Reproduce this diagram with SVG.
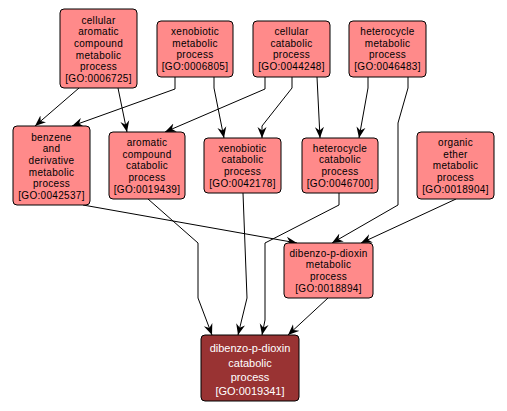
<svg xmlns="http://www.w3.org/2000/svg" width="507" height="411" viewBox="0 0 507 411">
<style>
.n rect{fill:#ff8a8a;stroke:#000;stroke-width:1}
.n text{font-family:"Liberation Sans",Arial,sans-serif;font-size:10px;letter-spacing:0.3px;text-anchor:middle;fill:#000}
.d rect{fill:#993333;stroke:#000;stroke-width:1}
.d text{font-family:"Liberation Sans",Arial,sans-serif;font-size:11px;text-anchor:middle;fill:#fff}
.e path{fill:none;stroke:#000;stroke-width:1;marker-end:url(#a)}
</style>
<defs>
<marker id="a" markerUnits="userSpaceOnUse" markerWidth="12" markerHeight="10" viewBox="0 0 12 10" refX="11" refY="5" orient="auto">
<path d="M0,0.5 L11,5 L0,9.5 L3.5,5 Z" fill="#000"/>
</marker>
</defs>
<rect width="507" height="411" fill="#fff"/>
<g class="e" id="edges">
<path d="M79,88 L35,126"/>
<path d="M118,88 L127,132"/>
<path d="M175,77 L175,89 L72,126"/>
<path d="M265,77 L265,89 L165,132"/>
<path d="M214,77 L214,88 L224,138"/>
<path d="M292,77 L292,88 L262,126 L262,138"/>
<path d="M317,77 L320,138"/>
<path d="M368,77 L368,88 L359,138"/>
<path d="M408,77 L408,88 L398,123 L398,205 L332,243"/>
<path d="M456,199 L361,243"/>
<path d="M83,205 L297,243"/>
<path d="M148,199 L198,243 L198,298 L212,335"/>
<path d="M243,193 L247,298 L238,335"/>
<path d="M339,193 L339,205 L265,243 L265,320 L262,335"/>
<path d="M328,298 L288,335"/>
</g>
<g class="n" id="GO0006725">
<rect x="60" y="9" width="77" height="79" rx="4"/>
<text x="98.5" y="23.5">cellular</text>
<text x="98.5" y="35.2">aromatic</text>
<text x="98.5" y="46.9">compound</text>
<text x="98.5" y="58.6">metabolic</text>
<text x="98.5" y="70.3">process</text>
<text x="98.5" y="82">[GO:0006725]</text>
</g>
<g class="n" id="GO0006805">
<rect x="157" y="21" width="76" height="56" rx="4"/>
<text x="195" y="35">xenobiotic</text>
<text x="195" y="46.7">metabolic</text>
<text x="195" y="58.4">process</text>
<text x="195" y="70.1">[GO:0006805]</text>
</g>
<g class="n" id="GO0044248">
<rect x="253" y="21" width="77" height="56" rx="4"/>
<text x="291.5" y="35">cellular</text>
<text x="291.5" y="46.7">catabolic</text>
<text x="291.5" y="58.4">process</text>
<text x="291.5" y="70.1">[GO:0044248]</text>
</g>
<g class="n" id="GO0046483">
<rect x="349" y="21" width="77" height="56" rx="4"/>
<text x="387.5" y="35">heterocycle</text>
<text x="387.5" y="46.7">metabolic</text>
<text x="387.5" y="58.4">process</text>
<text x="387.5" y="70.1">[GO:0046483]</text>
</g>
<g class="n" id="GO0042537">
<rect x="13" y="126" width="77" height="79" rx="4"/>
<text x="51.5" y="140.5">benzene</text>
<text x="51.5" y="152.2">and</text>
<text x="51.5" y="163.9">derivative</text>
<text x="51.5" y="175.6">metabolic</text>
<text x="51.5" y="187.3">process</text>
<text x="51.5" y="199">[GO:0042537]</text>
</g>
<g class="n" id="GO0019439">
<rect x="109" y="132" width="76" height="67" rx="4"/>
<text x="147" y="146">aromatic</text>
<text x="147" y="157.7">compound</text>
<text x="147" y="169.4">catabolic</text>
<text x="147" y="181.1">process</text>
<text x="147" y="192.8">[GO:0019439]</text>
</g>
<g class="n" id="GO0042178">
<rect x="204" y="138" width="77" height="55" rx="4"/>
<text x="242.5" y="151.5">xenobiotic</text>
<text x="242.5" y="163.2">catabolic</text>
<text x="242.5" y="174.9">process</text>
<text x="242.5" y="186.6">[GO:0042178]</text>
</g>
<g class="n" id="GO0046700">
<rect x="302" y="138" width="76" height="55" rx="4"/>
<text x="340" y="151.5">heterocycle</text>
<text x="340" y="163.2">catabolic</text>
<text x="340" y="174.9">process</text>
<text x="340" y="186.6">[GO:0046700]</text>
</g>
<g class="n" id="GO0018904">
<rect x="417" y="132" width="77" height="67" rx="4"/>
<text x="455.5" y="146">organic</text>
<text x="455.5" y="157.7">ether</text>
<text x="455.5" y="169.4">metabolic</text>
<text x="455.5" y="181.1">process</text>
<text x="455.5" y="192.8">[GO:0018904]</text>
</g>
<g class="n" id="GO0018894">
<rect x="284" y="243" width="89" height="55" rx="4"/>
<text x="328.5" y="256.5">dibenzo-p-dioxin</text>
<text x="328.5" y="268.2">metabolic</text>
<text x="328.5" y="279.9">process</text>
<text x="328.5" y="291.6">[GO:0018894]</text>
</g>
<g class="d" id="GO0019341">
<rect x="201" y="335" width="98" height="66" rx="4"/>
<text x="250" y="352">dibenzo-p-dioxin</text>
<text x="250" y="366.5">catabolic</text>
<text x="250" y="380.5">process</text>
<text x="250" y="395">[GO:0019341]</text>
</g>
</svg>
